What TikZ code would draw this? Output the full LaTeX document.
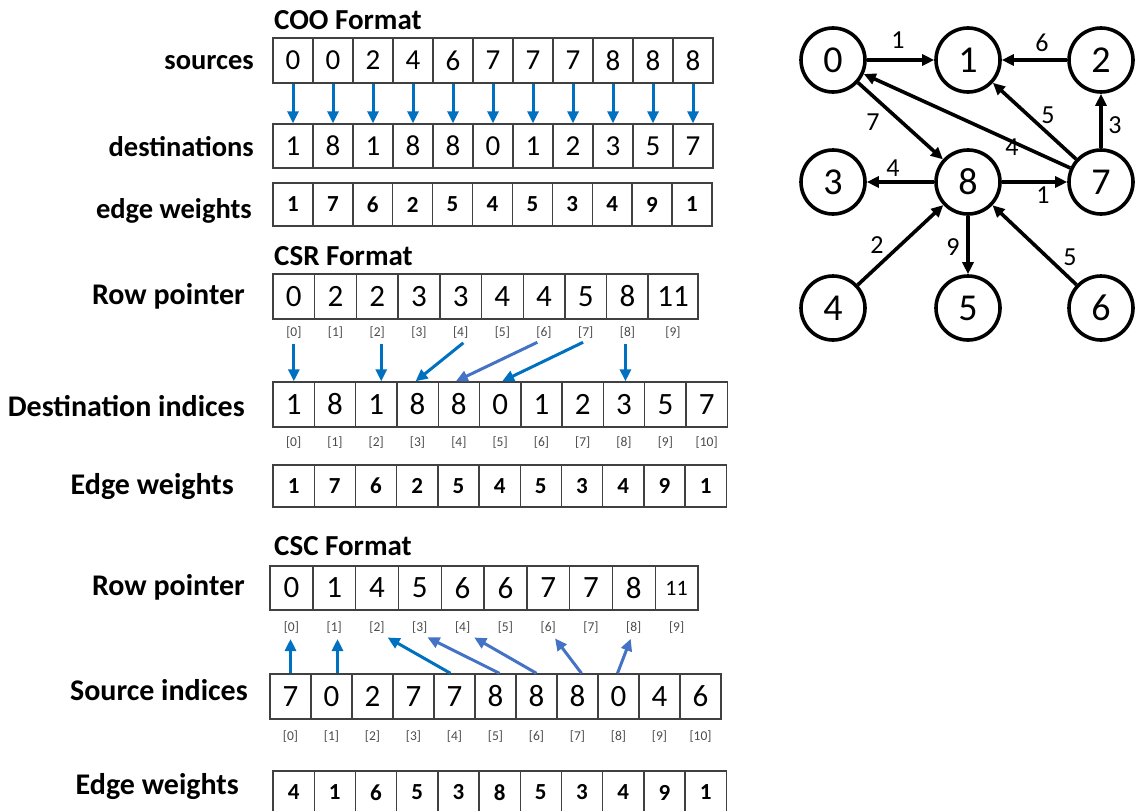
\documentclass[tikz,border=0pt]{standalone}
\usepackage{fontspec}
\setmainfont{Carlito}
\usetikzlibrary{arrows.meta,calc}

\definecolor{arrblue}{HTML}{0070C0}
\definecolor{arrlight}{HTML}{4472C4}
\definecolor{cellline}{HTML}{404040}
\definecolor{idxgray}{HTML}{4A4A4A}

\tikzset{
  cellbox/.style={draw=cellline, line width=1.4pt, inner sep=0pt, fill=white},
  plaindigit/.style={font=\fontsize{29}{29}\selectfont},
  bigdigit/.style={font=\fontsize{31}{31}\selectfont},
  wdigit/.style={font=\bfseries\fontsize{23}{23}\selectfont},
  rowlabel/.style={anchor=east, inner sep=0pt, font=\bfseries\fontsize{28.5}{28.5}\selectfont},
  biglabel/.style={anchor=east, inner sep=0pt, font=\bfseries\fontsize{30}{30}\selectfont},
  fmttitle/.style={anchor=west, inner sep=0pt, font=\bfseries\fontsize{29}{29}\selectfont},
  idx/.style={text=idxgray, inner sep=2pt, font=\fontsize{13.5}{13.5}\selectfont},
  ptr/.style={draw=arrblue, line width=3pt, -{Triangle[length=12pt,width=11pt]}},
  ptrlight/.style={ptr, draw=arrlight},
  vertex/.style={circle, draw, line width=3.6pt, minimum size=64pt, inner sep=0pt,
                 font=\fontsize{38}{38}\selectfont},
  edge/.style={line width=3.6pt, -{Triangle[length=12pt,width=11pt]}},
  wlabel/.style={inner sep=0pt, font=\fontsize{26}{26}\selectfont},
}

% one row of array cells: name, left x, cell width, top y, bottom y, digit style, values
\newcommand\cellrow[7]{%
  \foreach \v [count=\i] in {#7} {
    \node[cellbox,#6,minimum width=#3pt,minimum height={(#5-#4)*1pt}]
      (#1-\i) at ({#2+(\i-0.5)*#3},{(#4+#5)/2}) {\v};
  }}
% index labels under a row: name, left x, cell width, y, last index
\newcommand\idxrow[5]{%
  \foreach \i in {0,...,#5} {
    \node[idx] (#1-\i) at ({#2+(\i+0.5)*#3},#4) {[\i]};
  }}

\begin{document}
\begin{tikzpicture}[x=1pt,y=-1pt]
\useasboundingbox (0,0) rectangle (1138,811);

% ---------------- COO ----------------
\node[fmttitle] (cootitle) at (274,20) {COO Format};
\node[rowlabel] (coolsrc) at (254,63) {sources};
\node[rowlabel] (cooldst) at (254,147) {destinations};
\node[rowlabel] (coolw) at (252,211) {edge weights};
\cellrow{coos}{273}{40}{38}{83}{plaindigit}{0,0,2,4,6,7,7,7,8,8,8}
\cellrow{coodst}{273}{40}{124}{168}{plaindigit}{1,8,1,8,8,0,1,2,3,5,7}
\cellrow{coow}{273}{39.9}{183}{226}{wdigit}{1,7,6,2,5,4,5,3,4,9,1}
\foreach \i in {1,...,11} {
  \draw[ptr] (coos-\i.south) -- (coodst-\i.north);
}

% ---------------- CSR ----------------
\node[fmttitle] (csrtitle) at (274,256) {CSR Format};
\node[biglabel] (csrlrp) at (245,296) {Row pointer};
\node[biglabel] (csrld) at (245,406) {Destination indices};
\node[biglabel] (csrlw) at (234,487) {Edge weights};
\cellrow{csrrp}{273}{41.7}{274}{319}{bigdigit}{0,2,2,3,3,4,4,5,8}
\node[cellbox,bigdigit,minimum width=50pt,minimum height=45pt] (csrrp-10) at (673,296.5) {11};
\idxrow{csrri}{273}{41.7}{333}{8}
\node[idx] (csrri-9) at (673,333) {[9]};
\cellrow{csrd}{273}{41.3}{382}{427}{bigdigit}{1,8,1,8,8,0,1,2,3,5,7}
\idxrow{csrdi}{273}{41.3}{443}{10}
\cellrow{csrw}{273}{41.2}{465}{507}{wdigit}{1,7,6,2,5,4,5,3,4,9,1}

\draw[ptr,shorten <=3pt] (csrri-0.south) -- (csrri-0.south |- csrd-1.north);
\coordinate (p2) at ($(csrri-2.south)+(4,0)$);
\draw[ptr,shorten <=3pt] (p2) -- (p2 |- csrd-3.north);
\draw[ptr,shorten <=3pt] ($(csrri-4.south)+(5,0)$) -- ($(csrd-4.north)+(-2,0)$);
\draw[ptrlight,shorten <=3pt] ($(csrri-6.south)+(-4,0)$) -- ($(csrd-5.north)+(-3,0)$);
\draw[ptr,shorten <=3pt] (csrri-7.south) -- ($(csrd-6.north)+(2,0)$);
\coordinate (p8) at ($(csrri-8.south)+(-2,0)$);
\draw[ptr,shorten <=3pt] (p8) -- (p8 |- csrd-9.north);

% ---------------- CSC ----------------
\node[fmttitle] (csctitle) at (274,546) {CSC Format};
\node[biglabel] (csclrp) at (245,587) {Row pointer};
\node[biglabel] (cscls) at (248,690) {Source indices};
\node[biglabel] (csclw) at (239,787) {Edge weights};
\cellrow{cscrp}{270}{42.8}{566}{610}{bigdigit}{0,1,4,5,6,6,7,7,8,{\fontsize{22}{22}\selectfont 11}}
\idxrow{cscri}{270}{42.8}{628}{9}
\cellrow{cscs}{270}{41}{674}{719}{bigdigit}{7,0,2,7,7,8,8,8,0,4,6}
\idxrow{cscsi}{270}{41}{737}{10}
\cellrow{cscw}{273}{41.2}{771}{814}{wdigit}{4,1,6,5,3,8,5,3,4,9,1}

\draw[ptr,shorten >=3pt] (cscs-1.north) -- (cscs-1.north |- cscri-0.south);
\coordinate (q1) at ($(cscs-2.north)+(6,0)$);
\draw[ptr,shorten >=3pt] (q1) -- (q1 |- cscri-1.south);
\draw[ptr,shorten >=3pt] ($(cscs-5.north)+(-4,0)$) -- ($(cscri-2.south)+(8,0)$);
\draw[ptrlight,shorten >=3pt] ($(cscs-6.north)+(4,0)$) -- ($(cscri-3.south)+(5,0)$);
\draw[ptrlight,shorten >=3pt] (cscs-7.north) -- ($(cscri-4.south)+(9,0)$);
\draw[ptrlight,shorten >=3pt] ($(cscs-8.north)+(4,0)$) -- ($(cscri-6.south)+(5,0)$);
\draw[ptrlight,shorten >=3pt] ($(cscs-9.north)+(-1,0)$) -- ($(cscri-8.south)+(-2,0)$);

% ---------------- graph ----------------
\node[vertex] (g0) at (833,60) {0};
\node[vertex] (g1) at (968,60) {1};
\node[vertex] (g2) at (1101,60) {2};
\node[vertex] (g3) at (833,182) {3};
\node[vertex] (g8) at (968,182) {8};
\node[vertex] (g7) at (1101,182) {7};
\node[vertex] (g4) at (833,308) {4};
\node[vertex] (g5) at (968,308) {5};
\node[vertex] (g6) at (1101,308) {6};

\draw[edge] (g0) -- (g1);
\draw[edge] (g2) -- (g1);
\draw[edge] (g7) -- (g2);
\draw[edge] (g7) -- (g1);
\draw[edge] (g7) -- (g0);
\draw[edge] (g0) -- (g8);
\draw[edge] (g8) -- (g3);
\draw[edge] (g8) -- (g7);
\draw[edge] (g4) -- (g8);
\draw[edge] (g8) -- (g5);
\draw[edge] (g6) -- (g8);

\node[wlabel] (w01) at (898,40) {1};
\node[wlabel] (w21) at (1042,43) {6};
\node[wlabel] (w72) at (1115,125) {3};
\node[wlabel] (w71) at (1048,115) {5};
\node[wlabel] (w70) at (1012,147) {4};
\node[wlabel] (w08) at (873,122) {7};
\node[wlabel] (w83) at (893,168) {4};
\node[wlabel] (w87) at (1043,195) {1};
\node[wlabel] (w48) at (877,245) {2};
\node[wlabel] (w85) at (953,247) {9};
\node[wlabel] (w68) at (1070,257) {5};
\end{tikzpicture}
\end{document}
